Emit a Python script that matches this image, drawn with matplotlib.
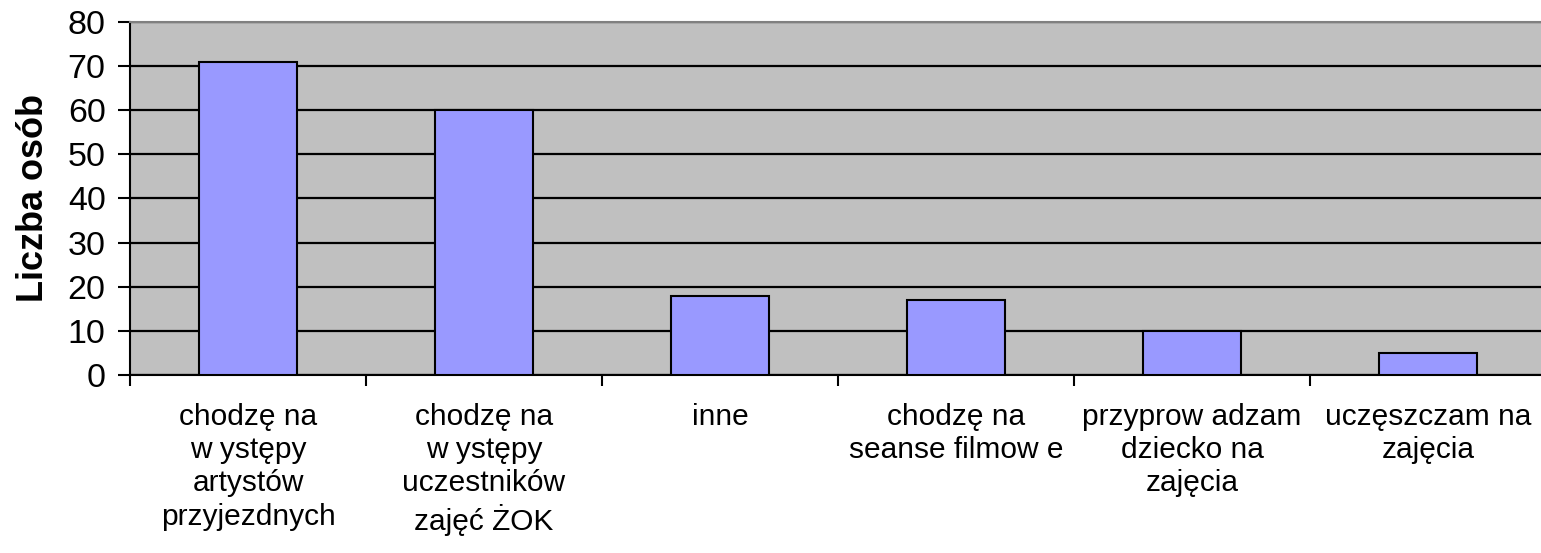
import numpy as np
import matplotlib.pyplot as plt

plt.rcParams['font.family'] = ['Liberation Sans', 'DejaVu Sans']

categories = ['chodzę na\nw ystępy\nartystów\nprzyjezdnych',
              'chodzę na\nw ystępy\nuczestników\nzajęć ŻOK',
              'inne',
              'chodzę na\nseanse filmow e',
              'przyprow adzam\ndziecko na\nzajęcia',
              'uczęszczam na\nzajęcia']
values = [71, 60, 18, 17, 10, 5]
yticks = [0, 10, 20, 30, 40, 50, 60, 70, 80]

fig = plt.figure(figsize=(15.41, 5.53), dpi=100)
ax = fig.add_axes([130 / 1541, 1 - 375 / 553, 6 * 236 / 1541, 353 / 553])
ax.set_facecolor('#C0C0C0')

x = np.arange(len(values))
ax.bar(x, values, width=0.415, color='#9999FF', edgecolor='black', linewidth=1.5, zorder=3)

ax.set_xlim(-0.5, len(values) - 0.5)
ax.set_ylim(0, 80)
ax.set_yticks(yticks)
ax.yaxis.grid(True, color='black', linewidth=1.6, zorder=1)
ax.set_axisbelow(True)

ax.set_xticks(x)
ax.set_xticklabels(categories, fontsize=21.5, linespacing=1.24, va='top')
ax.set_xticks(np.arange(len(values) + 1) - 0.5, minor=True)
ax.tick_params(axis='x', which='major', length=0, pad=20)
ax.tick_params(axis='x', which='minor', length=8, width=1.5, direction='out')
ax.tick_params(axis='y', length=8.5, width=1.5, labelsize=24.5, pad=9)

ax.spines['top'].set_color('#808080')
ax.spines['top'].set_linewidth(1.5)
ax.spines['right'].set_visible(False)
ax.spines['left'].set_linewidth(1.5)
ax.spines['bottom'].set_linewidth(1.5)

ax.set_ylabel('Liczba osób', fontsize=26, fontweight='bold', labelpad=12)

fig.savefig('out.png', dpi=100)
